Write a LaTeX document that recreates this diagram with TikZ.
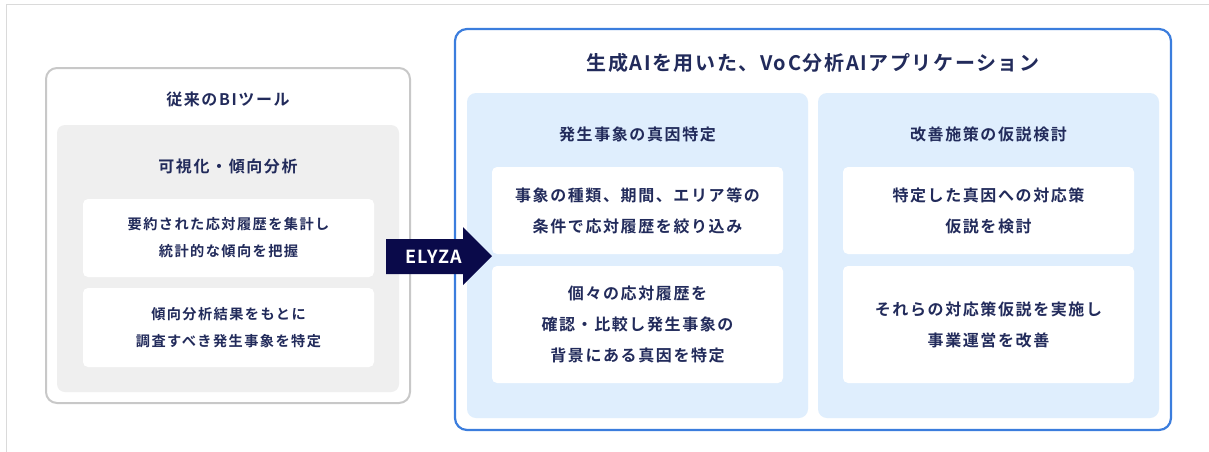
\documentclass[tikz,border=0pt]{standalone}
\usepackage{fontspec}
\newfontfamily\jpfont{Noto Sans CJK JP}[LetterSpace=10,BoldFont={* Bold}]
\newfontfamily\jpwide{Noto Sans CJK JP}[LetterSpace=8,BoldFont={* Bold}]
\newfontfamily\latinfont{Noto Sans CJK JP}[LetterSpace=6,BoldFont={* Bold}]
\definecolor{navytext}{HTML}{222B5B}
\definecolor{arrownavy}{HTML}{0A0A4A}
\definecolor{grayborder}{HTML}{C8C8C8}
\definecolor{grayfill}{HTML}{EFEFEF}
\definecolor{blueborder}{HTML}{3B7DDD}
\definecolor{bluefill}{HTML}{DFEEFD}
\definecolor{framegray}{HTML}{DADADA}
\tikzset{
  box/.style={rectangle, inner sep=0pt, anchor=center},
  outergray/.style={box, draw=grayborder, line width=2pt, rounded corners=11pt, fill=white},
  innergray/.style={box, fill=grayfill, rounded corners=8pt},
  outerblue/.style={box, draw=blueborder, line width=2.2pt, rounded corners=12pt, fill=white},
  bluepanel/.style={box, fill=bluefill, rounded corners=9pt},
  whitecard/.style={box, fill=white, rounded corners=5pt},
  lbl/.style={text=navytext, align=center, inner sep=0pt, font=\jpfont\bfseries\fontsize{16}{31}\selectfont},
  smalllbl/.style={lbl, font=\jpfont\bfseries\fontsize{14.2}{27}\selectfont},
  biglbl/.style={lbl, font=\jpwide\bfseries\fontsize{20}{24}\selectfont},
}
\begin{document}
\begin{tikzpicture}[x=1pt,y=-1pt]
\useasboundingbox (0,0) rectangle (1209,451);
% page frame (top and left edges)
\draw[framegray, line width=0.8pt] (1215,4.5) -- (6.5,4.5) -- (6.5,460);
% left: conventional BI tool
\node[outergray, minimum width=364pt, minimum height=335pt] (bi) at (228,235.5) {};
\node[lbl, font=\jpfont\bfseries\fontsize{16}{20}\selectfont] (bititle) at (228,99) {従来のBIツール};
\node[innergray, minimum width=342pt, minimum height=267pt] (vis) at (228,258.5) {};
\node[lbl] (vistitle) at (228,166) {可視化・傾向分析};
\node[whitecard, minimum width=291pt, minimum height=78pt] (l1) at (228.5,238) {};
\node[smalllbl] at (l1) {要約された応対履歴を集計し\\統計的な傾向を把握};
\node[whitecard, minimum width=291pt, minimum height=79pt] (l2) at (228.5,327.5) {};
\node[smalllbl] at (l2) {傾向分析結果をもとに\\調査すべき発生事象を特定};
% right: generative AI application
\node[outerblue, minimum width=716pt, minimum height=401pt] (app) at (813,229.5) {};
\node[biglbl] (apptitle) at (813,63) {生成AIを用いた、VoC分析AIアプリケーション};
\node[bluepanel, minimum width=341pt, minimum height=325pt] (p1) at (637.5,255.5) {};
\node[bluepanel, minimum width=341pt, minimum height=325pt] (p2) at (988.5,255.5) {};
\node[lbl] (p1title) at (637.5,134) {発生事象の真因特定};
\node[lbl] (p2title) at (988.5,134) {改善施策の仮説検討};
\node[whitecard, minimum width=291pt, minimum height=87pt] (p1a) at (637.5,210.5) {};
\node[lbl] at (p1a) {事象の種類、期間、エリア等の\\条件で応対履歴を絞り込み};
\node[whitecard, minimum width=291pt, minimum height=117pt] (p1b) at (637.5,324.5) {};
\node[lbl] at (p1b) {個々の応対履歴を\\確認・比較し発生事象の\\背景にある真因を特定};
\node[whitecard, minimum width=291pt, minimum height=87pt] (p2a) at (988.5,210.5) {};
\node[lbl] at (p2a) {特定した真因への対応策\\仮説を検討};
\node[whitecard, minimum width=291pt, minimum height=117pt] (p2b) at (988.5,324.5) {};
\node[lbl] at (p2b) {それらの対応策仮説を実施し\\事業運営を改善};
% ELYZA arrow
\fill[arrownavy] (386,239) -- (463,239) -- (463,227) -- (492,256) -- (463,285) -- (463,274) -- (386,274) -- cycle;
\node[text=white, inner sep=0pt, font=\latinfont\bfseries\fontsize{18}{20}\selectfont] (elyza) at (433.5,257) {ELYZA};
\end{tikzpicture}
\end{document}
